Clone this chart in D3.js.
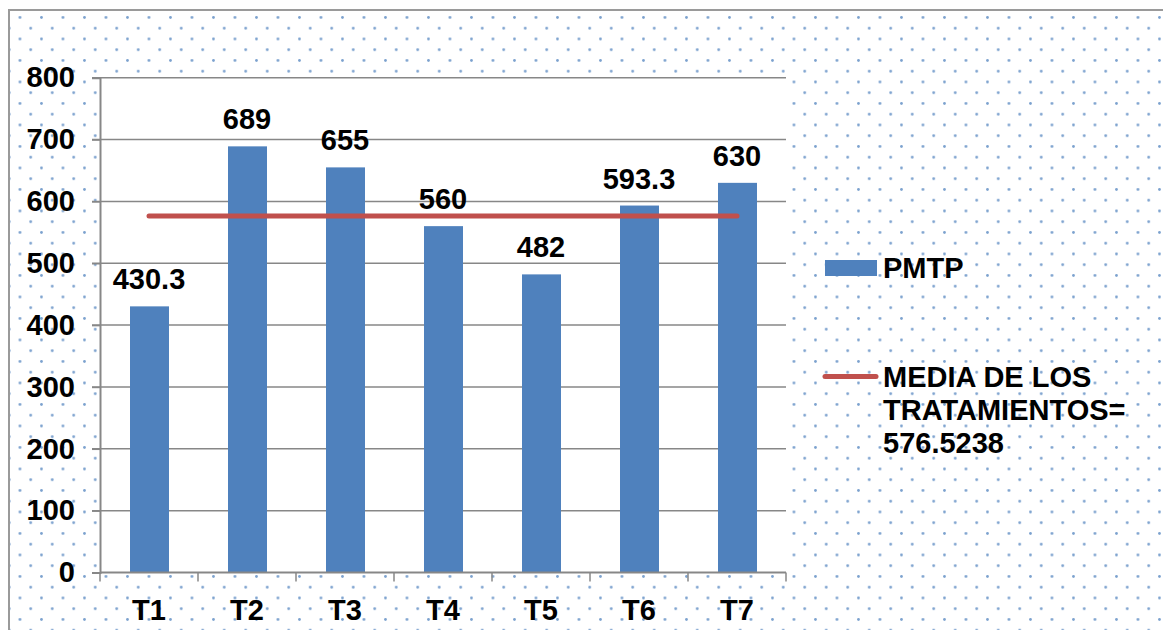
<!DOCTYPE html>
<html>
<head>
<meta charset="utf-8">
<script src="https://cdn.jsdelivr.net/npm/d3@7"></script>
<style>
  body { margin: 0; background: #fff; }
  svg text { font-family: "Liberation Sans", Arial, sans-serif; font-weight: bold; fill: #000; }
</style>
</head>
<body>
<svg width="1163" height="630"></svg>
<script>
  const categories = ['T1', 'T2', 'T3', 'T4', 'T5', 'T6', 'T7'];
  const pmtp = [430.3, 689, 655, 560, 482, 593.3, 630];
  const media = 576.5238;
  const yTicks = [0, 100, 200, 300, 400, 500, 600, 700, 800];
  const legendLabels = ['PMTP', ['MEDIA DE LOS', 'TRATAMIENTOS=', '576.5238']];

  const svg = d3.select('svg');
  const gridColor = '#878787';

  // dotted background
  const defs = svg.append('defs');
  const pat = defs.append('pattern')
    .attr('id', 'dots')
    .attr('patternUnits', 'userSpaceOnUse')
    .attr('width', 21.5).attr('height', 21.5)
    .attr('x', 14.6).attr('y', 12.1);
  [[5.375, 5.375], [16.125, 16.125]].forEach(([cx, cy]) => {
    pat.append('circle').attr('cx', cx).attr('cy', cy).attr('r', 1.4)
      .attr('fill', '#4f81bd').attr('opacity', 0.75);
  });

  svg.append('rect').attr('x', 9).attr('y', 10).attr('width', 1163).attr('height', 630)
    .attr('fill', 'url(#dots)');
  svg.append('path').attr('d', 'M9,640V10H1170')
    .attr('fill', 'none').attr('stroke', '#9a9a9a').attr('stroke-width', 2);

  const margin = { left: 100, top: 77.7, right: 786, bottom: 572.5 };

  const x = d3.scaleBand().domain(categories).range([margin.left, margin.right]);
  const y = d3.scaleLinear().domain([0, 800]).range([margin.bottom, margin.top]);

  // plot area
  svg.append('rect')
    .attr('x', margin.left).attr('y', margin.top)
    .attr('width', margin.right - margin.left).attr('height', margin.bottom - margin.top)
    .attr('fill', '#fff');

  // gridlines
  svg.append('g').selectAll('line').data(yTicks.filter(d => d > 0)).join('line')
    .attr('x1', margin.left - 8).attr('x2', margin.right)
    .attr('y1', d => y(d)).attr('y2', d => y(d))
    .attr('stroke', gridColor).attr('stroke-width', 1.5);

  // y axis
  const yAxis = svg.append('g')
    .attr('transform', `translate(${margin.left},0)`)
    .call(d3.axisLeft(y).tickValues(yTicks).tickSize(8).tickPadding(17).tickFormat(d3.format('d')));
  yAxis.select('.domain').attr('stroke', gridColor).attr('stroke-width', 2);
  yAxis.selectAll('.tick line').attr('stroke', gridColor).attr('stroke-width', 1.5);
  yAxis.selectAll('.tick text').style('font-size', '29px').attr('fill', '#000');

  // bars
  svg.append('g').selectAll('rect').data(pmtp).join('rect')
    .attr('x', (d, i) => x(categories[i]) + 30)
    .attr('width', x.bandwidth() - 59)
    .attr('y', d => y(d))
    .attr('height', d => y(0) - y(d))
    .attr('fill', '#4f81bd');

  // x axis
  const xAxisG = svg.append('g').attr('transform', `translate(0,${margin.bottom})`);
  xAxisG.append('line').attr('x1', margin.left).attr('x2', margin.right)
    .attr('stroke', gridColor).attr('stroke-width', 2);
  const boundaries = categories.map(c => x(c)).concat([margin.right]);
  xAxisG.selectAll('line.tick').data(boundaries).join('line').attr('class', 'tick')
    .attr('x1', d => d).attr('x2', d => d).attr('y1', 0).attr('y2', 9)
    .attr('stroke', gridColor).attr('stroke-width', 1.5);
  xAxisG.selectAll('text').data(categories).join('text')
    .attr('x', d => x(d) + x.bandwidth() / 2)
    .attr('y', 47)
    .attr('text-anchor', 'middle')
    .style('font-size', '29px')
    .text(d => d);

  // value labels
  svg.append('g').selectAll('text').data(pmtp).join('text')
    .attr('x', (d, i) => x(categories[i]) + x.bandwidth() / 2)
    .attr('y', d => y(d) - 17)
    .attr('text-anchor', 'middle')
    .style('font-size', '29px')
    .text(d => d);

  // mean line
  const line = d3.line()
    .x(d => x(d) + x.bandwidth() / 2)
    .y(() => y(media));
  svg.append('path').datum(categories)
    .attr('d', line)
    .attr('fill', 'none').attr('stroke', '#c0504d')
    .attr('stroke-width', 5).attr('stroke-linecap', 'round');

  // legend
  const lg = svg.append('g');
  lg.append('rect').attr('x', 825).attr('y', 260).attr('width', 52).attr('height', 16)
    .attr('fill', '#4f81bd');
  lg.append('text').attr('x', 883).attr('y', 278).style('font-size', '29px').text(legendLabels[0]);
  lg.append('line').attr('x1', 825).attr('x2', 876).attr('y1', 376.5).attr('y2', 376.5)
    .attr('stroke', '#c0504d').attr('stroke-width', 5).attr('stroke-linecap', 'round');
  lg.append('text').attr('x', 883).attr('y', 387).style('font-size', '29px')
    .selectAll('tspan').data(legendLabels[1]).join('tspan')
    .attr('x', 883).attr('dy', (d, i) => i === 0 ? 0 : 33)
    .text(d => d);
</script>
</body>
</html>
